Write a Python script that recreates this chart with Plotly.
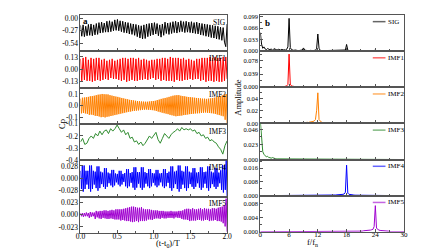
import numpy as np
import plotly.graph_objects as go

NAMES = ["SIG", "IMF1", "IMF2", "IMF3", "IMF4", "IMF5"]
COLORS = ["#000000", "#ff0000", "#ff8000", "#2e8b2e", "#0000ff", "#a000d0"]

# ---------------- time series (left, panel a) ----------------
SIG = [-0.15,-0.39,-0.14,-0.40,-0.17,-0.38,-0.13,-0.37,-0.12,-0.38,-0.14,-0.36,-0.11,-0.35,
       -0.09,-0.32,-0.08,-0.31,-0.10,-0.30,-0.06,-0.30,-0.05,-0.29,-0.07,-0.27,-0.03,-0.26,
       -0.02,-0.27,-0.05,-0.29,-0.06,-0.31,-0.08,-0.32,-0.09,-0.34,-0.11,-0.35,-0.12,-0.37,
       -0.13,-0.40,-0.15,-0.43,-0.16,-0.45,-0.14,-0.44,-0.12,-0.40,-0.11,-0.38,-0.10,-0.36,
       -0.09,-0.34,-0.11,-0.38,-0.14,-0.41,-0.12,-0.37,-0.08,-0.33,-0.10,-0.35,-0.09,-0.33,
       -0.07,-0.31,-0.06,-0.32,-0.08,-0.30,-0.05,-0.29,-0.07,-0.31,-0.06,-0.30,-0.08,-0.31,
       -0.07,-0.32,-0.09,-0.33,-0.08,-0.34,-0.10,-0.36,-0.11,-0.37,-0.12,-0.39,-0.13,-0.40,
       -0.14,-0.42,-0.15,-0.43,-0.16,-0.45,-0.17,-0.46,-0.19,-0.48,-0.20,-0.52,-0.62,-0.12]

IMF1 = [0.11,-0.12,0.12,-0.11,0.13,-0.12,0.10,-0.12,0.12,-0.13,0.11,-0.12,0.12,-0.11,
        0.12,-0.12,0.10,-0.11,0.11,-0.10,0.09,-0.11,0.10,-0.09,0.11,-0.10,0.09,-0.10,
        0.10,-0.11,0.11,-0.12,0.12,-0.11,0.12,-0.13,0.11,-0.12,0.12,-0.11,0.12,-0.12,
        0.11,-0.12,0.12,-0.11,0.10,-0.11,0.11,-0.10,0.10,-0.11,0.09,-0.10,0.10,-0.09,
        0.10,-0.11,0.11,-0.10,0.11,-0.12,0.12,-0.11,0.12,-0.12,0.11,-0.12,0.13,-0.12,
        0.12,-0.13,0.12,-0.11,0.12,-0.12,0.11,-0.12,0.12,-0.11,0.10,-0.11,0.11,-0.10,
        0.10,-0.11,0.09,-0.10,0.11,-0.10,0.11,-0.12,0.12,-0.11,0.12,-0.13,0.12,-0.12,
        0.13,-0.12,0.12,-0.13,0.13,-0.12,0.12,-0.13,0.12,-0.13,0.13,-0.12,0.13,-0.10]

IMF2 = [0.060,-0.065,0.068,-0.062,0.070,-0.066,0.072,-0.070,0.075,-0.078,0.080,-0.076,0.082,-0.080,0.085,
        -0.086,0.090,-0.088,0.094,-0.092,0.096,-0.098,0.100,-0.096,0.098,-0.100,0.097,-0.095,0.096,-0.092,
        0.090,-0.088,0.086,-0.084,0.082,-0.080,0.078,-0.076,0.075,-0.072,0.070,-0.068,0.066,-0.064,0.062,
        -0.060,0.058,-0.056,0.055,-0.052,0.050,-0.050,0.048,-0.046,0.045,-0.044,0.042,-0.042,0.040,-0.040,
        0.038,-0.038,0.036,-0.036,0.035,-0.034,0.034,-0.033,0.034,-0.035,0.036,-0.036,0.038,-0.038,0.040,
        -0.040,0.042,-0.045,0.048,-0.050,0.052,-0.055,0.058,-0.060,0.062,-0.064,0.066,-0.068,0.070,-0.072,
        0.075,-0.078,0.080,-0.082,0.085,-0.086,0.088,-0.090,0.090,-0.088,0.090,-0.086,0.085,-0.084,0.082,
        -0.080,0.080,-0.078,0.076,-0.075,0.074,-0.072,0.072,-0.070,0.070,-0.068,0.068,-0.066,0.066,-0.065,
        0.064,-0.064,0.062,-0.062,0.060,-0.060,0.060,-0.058,0.058,-0.060,0.060,-0.062,0.062,-0.064,0.065,
        -0.066,0.068,-0.070,0.072,-0.075,0.078,-0.080,0.082,-0.085,0.088,-0.090,0.095,-0.120,0.100,-0.150]

IMF3 = [-0.25,-0.22,-0.27,-0.26,-0.22,-0.20,-0.22,-0.18,-0.20,-0.16,-0.19,-0.16,-0.15,-0.18,
        -0.14,-0.16,-0.14,-0.11,-0.14,-0.17,-0.15,-0.19,-0.17,-0.22,-0.21,-0.25,-0.24,-0.27,
        -0.25,-0.28,-0.26,-0.23,-0.20,-0.22,-0.19,-0.17,-0.23,-0.26,-0.22,-0.18,-0.20,-0.22,
        -0.19,-0.17,-0.16,-0.14,-0.16,-0.13,-0.15,-0.14,-0.15,-0.14,-0.16,-0.15,-0.18,-0.17,
        -0.20,-0.19,-0.22,-0.21,-0.24,-0.23,-0.25,-0.26,-0.29,-0.31,-0.35,-0.28,-0.24]

IMF4 = [0.017,-0.024,0.029,-0.030,0.029,-0.024,0.017,-0.014,
        0.017,-0.024,0.029,-0.030,0.029,-0.024,0.017,-0.014,
        0.015,-0.022,0.027,-0.028,0.027,-0.022,0.015,-0.013,
        0.013,-0.019,0.023,-0.024,0.023,-0.019,0.013,-0.011,
        0.011,-0.016,0.019,-0.020,0.019,-0.016,0.011,-0.009,
        0.010,-0.014,0.017,-0.018,0.017,-0.014,0.010,-0.008,
        0.012,-0.018,0.021,-0.022,0.021,-0.018,0.012,-0.010,
        0.014,-0.021,0.025,-0.026,0.025,-0.021,0.014,-0.012,
        0.014,-0.021,0.025,-0.026,0.025,-0.021,0.014,-0.012,
        0.012,-0.018,0.021,-0.022,0.021,-0.018,0.012,-0.010,
        0.011,-0.016,0.019,-0.020,0.019,-0.016,0.011,-0.009,
        0.012,-0.018,0.021,-0.022,0.021,-0.018,0.012,-0.010,
        0.015,-0.022,0.027,-0.028,0.027,-0.022,0.015,-0.013,
        0.017,-0.024,0.029,-0.030,0.029,-0.024,0.017,-0.014,
        0.015,-0.022,0.027,-0.028,0.027,-0.022,0.015,-0.013,
        0.013,-0.019,0.023,-0.024,0.023,-0.019,0.013,-0.011,
        0.014,-0.021,0.025,-0.026,0.025,-0.021,0.014,-0.012,
        0.015,-0.022,0.027,-0.028,0.027,-0.022,0.015,-0.013,
        0.013,-0.019,0.023,-0.024,0.023,-0.019,0.013,-0.011,
        0.018,-0.026,0.030,-0.032,0.030,-0.026,0.040,-0.042]

IMF5 = [0.003,-0.003,0.003,-0.004,0.003,-0.003,0.004,-0.003,0.003,-0.006,0.005,-0.004,0.004,-0.003,0.004,
        -0.008,0.007,-0.005,0.006,-0.007,0.007,-0.008,0.007,-0.006,0.008,-0.007,0.008,-0.008,0.007,-0.008,
        0.008,-0.007,0.009,-0.008,0.008,-0.009,0.010,-0.009,0.010,-0.009,0.010,-0.011,0.010,-0.010,0.011,
        -0.011,0.012,-0.012,0.013,-0.012,0.014,-0.013,0.015,-0.014,0.015,-0.013,0.014,-0.012,0.013,-0.014,
        0.013,-0.012,0.014,-0.012,0.011,-0.012,0.010,-0.011,0.010,-0.009,0.010,-0.009,0.009,-0.010,0.008,
        -0.008,0.008,-0.007,0.008,-0.007,0.007,-0.008,0.007,-0.006,0.007,-0.007,0.006,-0.007,0.006,-0.006,
        0.006,-0.006,0.007,-0.006,0.006,-0.007,0.006,-0.005,0.006,-0.006,0.007,-0.006,0.007,-0.008,0.008,
        -0.009,0.010,-0.009,0.011,-0.010,0.011,-0.012,0.010,-0.011,0.012,-0.011,0.010,-0.011,0.010,-0.010,
        0.011,-0.010,0.012,-0.011,0.010,-0.011,0.012,-0.010,0.011,-0.010,0.011,-0.012,0.010,-0.011,0.012,
        -0.011,0.012,-0.010,0.011,-0.012,0.013,-0.012,0.014,-0.013,0.015,-0.016,0.018,-0.022,0.030,-0.032]

TIME_SERIES = [SIG, IMF1, IMF2, IMF3, IMF4, IMF5]

# ---------------- spectra (right, panel b), f/fn grid step 0.25 from 0 to 30 ----------------
Z12 = [0.0] * 12
SIG_AMP = ([0.053,0.020,0.008,0.012,0.006,0.004,0.007,0.005,0.004,0.006,0.003,0.005] +
           [0.007,0.004,0.003,0.005,0.004,0.003,0.005,0.003,0.004,0.003,0.005,0.012] +
           [0.094,0.010,0.004,0.002,0.002,0.003,0.002,0.002,0.001,0.002,0.002,0.003] +
           [0.009,0.003,0.002,0.001,0.002,0.001,0.002,0.001,0.001,0.002,0.002,0.008] +
           [0.049,0.008,0.002,0.001,0.001,0.001,0.002,0.001,0.001,0.001,0.001,0.001] +
           [0.003,0.001,0.001,0.001,0.001,0.001,0.001,0.001,0.001,0.001,0.001,0.003] +
           [0.019,0.003,0.001,0.001,0.001,0.001,0.001,0.001,0.001,0.001,0.001,0.001] +
           [0.002,0.001,0.001,0.001,0.001,0.001,0.001,0.001,0.001,0.001,0.001,0.001] +
           [0.004,0.001,0.001,0.001,0.000,0.001,0.000,0.000,0.001,0.000,0.000,0.000] +
           [0.001,0.000,0.000,0.000,0.000,0.000,0.000,0.000,0.000,0.000,0.000,0.000] + [0.0])
IMF1_AMP = ([0.001,0.001,0,0,0,0,0,0,0,0,0,0] +
            [0,0,0,0,0.001,0.001,0.001,0.002,0.002,0.003,0.004,0.008] +
            [0.098,0.009,0.004,0.003,0.002,0.001,0.001,0.001,0,0,0,0] +
            Z12 + [0.001,0,0,0,0,0,0,0,0,0,0,0] + Z12 + Z12 + Z12 + Z12 + Z12 + [0.0])
IMF2_AMP = (Z12 + Z12 + [0,0.001,0,0,0,0,0,0,0,0,0,0] +
            [0.001,0.001,0.001,0.002,0.001,0.002,0.002,0.003,0.003,0.004,0.006,0.021] +
            [0.049,0.006,0.003,0.002,0.001,0.001,0.001,0.001,0,0,0,0] +
            Z12 + Z12 + Z12 + Z12 + Z12 + [0.0])
IMF3_AMP = ([0.058,0.030,0.012,0.008,0.006,0.004,0.005,0.003,0.003,0.002,0.003,0.002] +
            [0.001,0.001,0.001,0.001,0.001,0,0,0,0,0,0,0] +
            Z12 + Z12 + Z12 + Z12 + Z12 + Z12 + Z12 + Z12 + [0.0])
IMF4_AMP = (Z12 + Z12 + Z12 + Z12 + Z12 +
            [0.0003,0.0003,0.0004,0.0004,0.0005,0.0005,0.0006,0.0006,0.0007,0.0008,0.0010,0.0020] +
            [0.0177,0.0015,0.0008,0.0006,0.0005,0.0004,0.0004,0.0003,0.0003,0.0002,0.0002,0.0002] +
            Z12 + Z12 + Z12 + [0.0])
IMF5_AMP = (Z12 + Z12 + Z12 + Z12 + Z12 + Z12 + Z12 +
            [0.0002,0.0002,0.0003,0.0003,0.0003,0.0004,0.0004,0.0005,0.0005,0.0006,0.0007,0.0015] +
            [0.0074,0.0010,0.0006,0.0005,0.0004,0.0004,0.0003,0.0003,0.0002,0.0002,0.0002,0.0002] +
            Z12 + [0.0])
SPECTRA = [SIG_AMP, IMF1_AMP, IMF2_AMP, IMF3_AMP, IMF4_AMP, IMF5_AMP]
FREQ = np.arange(len(SIG_AMP)) * 0.25

# tick labels
LEFT_TICKS = [[0.00, -0.27, -0.54], [0.13, 0.00, -0.13], [0.1, 0.0, -0.1],
              [-0.1, -0.2, -0.3, -0.4], [0.028, 0.000, -0.028], [0.023, 0.000, -0.023]]
LEFT_TEXT = [["0.00", "-0.27", "-0.54"], ["0.13", "0.00", "-0.13"], ["0.1", "0.0", "-0.1"],
             ["-0.1", "-0.2", "-0.3", "-0.4"], ["0.028", "0.000", "-0.028"], ["0.023", "0.000", "-0.023"]]
LEFT_RANGE = [[-0.72, 0.08], [-0.19, 0.19], [-0.155, 0.155], [-0.4, -0.1], [-0.041, 0.041], [-0.034, 0.034]]
RIGHT_TICKS = [[0, 0.033, 0.066, 0.099], [0, 0.039, 0.078], [0, 0.02, 0.04],
               [0, 0.023, 0.046], [0, 0.008, 0.016], [0, 0.004, 0.008]]
RIGHT_TEXT = [["0.000", "0.033", "0.066", "0.099"], ["0.000", "0.039", "0.078"], ["0.00", "0.02", "0.04"],
              ["0.000", "0.023", "0.046"], ["0.000", "0.008", "0.016"], ["0.000", "0.004", "0.008"]]
RIGHT_RANGE = [[0, 0.104], [0, 0.107], [0, 0.058], [0, 0.055], [0, 0.021], [0, 0.0102]]
LEFT_XTICKS = [0.0, 0.5, 1.0, 1.5, 2.0]
LEFT_XTEXT = ["0.0", "0.5", "1.0", "1.5", "2.0"]
RIGHT_XTICKS = [0, 6, 12, 18, 24, 30]

W, H = 448, 252
FONT = "Liberation Serif"
AX = "#555555"


def pxx(x):
    return x / W


def pyy(y):
    return 1 - y / H


L_X = (69, 219)
R_X = (253, 400)
L_TOP, L_BOT = 3, 229
R_TOP, R_BOT = 3, 228

fig = go.Figure()
layout = {}
annotations = []
shapes = []

for r in range(6):
    # left
    k = r + 1
    t = np.linspace(0, 2, len(TIME_SERIES[r]))
    fig.add_trace(go.Scatter(x=t, y=TIME_SERIES[r], mode="lines",
                             line=dict(color=COLORS[r], width=1), xaxis=f"x{k}", yaxis=f"y{k}",
                             showlegend=False, hoverinfo="skip"))
    h = (L_BOT - L_TOP) / 6
    top = L_TOP + r * h
    bot = top + h
    layout[f"xaxis{k}"] = dict(domain=[pxx(L_X[0]), pxx(L_X[1])], anchor=f"y{k}", range=[0, 2],
                               tickvals=LEFT_XTICKS, ticktext=LEFT_XTEXT, showticklabels=(r == 5),
                               ticks="inside", ticklen=3, tickcolor=AX, showline=True, linecolor=AX,
                               linewidth=1, mirror=True, showgrid=False, zeroline=False,
                               ticklabelstandoff=-4,
                               minor=dict(tickmode="linear", tick0=0, dtick=0.25, ticks="inside",
                                          ticklen=2, tickcolor=AX),
                               tickfont=dict(family=FONT, size=7.5, color="#000"))
    layout[f"yaxis{k}"] = dict(domain=[pyy(bot), pyy(top)], anchor=f"x{k}", range=LEFT_RANGE[r],
                               tickvals=LEFT_TICKS[r], ticktext=LEFT_TEXT[r], ticks="inside",
                               ticklen=3, tickcolor=AX, showline=True, linecolor=AX, linewidth=1,
                               mirror=True, showgrid=False, zeroline=False,
                               tickfont=dict(family=FONT, size=7.5, color="#000"))
    annotations.append(dict(x=pxx(L_X[1] + 1), y=pyy(top + 1), xref="paper", yref="paper",
                            text=NAMES[r], showarrow=False, xanchor="right", yanchor="top",
                            font=dict(family=FONT, size=7.5, color="#000")))

    # right
    k = r + 7
    fig.add_trace(go.Scatter(x=FREQ, y=SPECTRA[r], mode="lines",
                             line=dict(color=COLORS[r], width=1), xaxis=f"x{k}", yaxis=f"y{k}",
                             showlegend=False, hoverinfo="skip"))
    h = (R_BOT - R_TOP) / 6
    top = R_TOP + r * h
    bot = top + h
    step = RIGHT_TICKS[r][1]
    layout[f"xaxis{k}"] = dict(domain=[pxx(R_X[0]), pxx(R_X[1])], anchor=f"y{k}", range=[0, 30],
                               tickvals=RIGHT_XTICKS, showticklabels=(r == 5),
                               ticks="inside", ticklen=3, tickcolor=AX, showline=True, linecolor=AX,
                               linewidth=1, mirror=True, showgrid=False, zeroline=False,
                               ticklabelstandoff=-4,
                               minor=dict(tickmode="linear", tick0=0, dtick=3, ticks="inside",
                                          ticklen=2, tickcolor=AX),
                               tickfont=dict(family=FONT, size=7, color="#000"))
    layout[f"yaxis{k}"] = dict(domain=[pyy(bot), pyy(top)], anchor=f"x{k}", range=RIGHT_RANGE[r],
                               tickvals=RIGHT_TICKS[r], ticktext=RIGHT_TEXT[r], ticks="inside",
                               ticklen=3, tickcolor=AX, showline=True, linecolor=AX, linewidth=1,
                               mirror=True, showgrid=False, zeroline=False,
                               minor=dict(tickmode="linear", tick0=0, dtick=step / 2, ticks="inside",
                                          ticklen=2, tickcolor=AX),
                               tickfont=dict(family=FONT, size=6.5, color="#000"))
    ly = top + 7
    shapes.append(dict(type="line", xref="paper", yref="paper", x0=pxx(368), x1=pxx(381),
                       y0=pyy(ly), y1=pyy(ly), line=dict(color=COLORS[r], width=1.5), opacity=0.6))
    annotations.append(dict(x=pxx(382), y=pyy(ly), xref="paper", yref="paper", text=NAMES[r],
                            showarrow=False, xanchor="left", yanchor="middle",
                            font=dict(family=FONT, size=7, color="#000")))

annotations += [
    dict(x=pxx(70), y=pyy(2), xref="paper", yref="paper", text="<b>a</b>", showarrow=False,
         xanchor="left", yanchor="top", font=dict(family=FONT, size=9, color="#000")),
    dict(x=pxx(256), y=pyy(4), xref="paper", yref="paper", text="<b>b</b>", showarrow=False,
         xanchor="left", yanchor="top", font=dict(family=FONT, size=9, color="#000")),
    dict(x=pxx(43), y=pyy(116), xref="paper", yref="paper", text="Cp", showarrow=False,
         textangle=-90, font=dict(family=FONT, size=8.5, color="#000")),
    dict(x=pxx(230), y=pyy(88), xref="paper", yref="paper", text="Amplitude", showarrow=False,
         textangle=-90, font=dict(family=FONT, size=8.5, color="#000")),
    dict(x=pxx(144), y=pyy(248), xref="paper", yref="paper", text="(t-t<sub>0</sub>)/T",
         showarrow=False, font=dict(family=FONT, size=8.5, color="#000")),
    dict(x=pxx(314), y=pyy(247), xref="paper", yref="paper", text="f/f<sub>n</sub>",
         showarrow=False, font=dict(family=FONT, size=8.5, color="#000")),
]

fig.update_layout(width=W, height=H, margin=dict(l=0, r=0, t=0, b=0), paper_bgcolor="white",
                  plot_bgcolor="white", annotations=annotations, shapes=shapes, showlegend=False,
                  **layout)
fig.write_html("out.html")
